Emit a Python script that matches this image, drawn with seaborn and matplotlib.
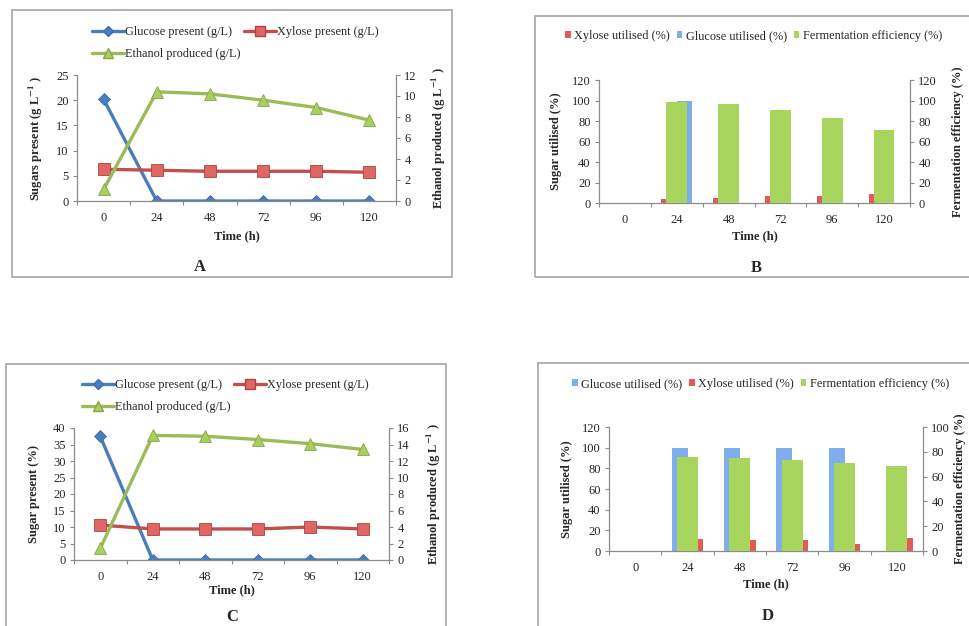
import numpy as np
import pandas as pd
import matplotlib
matplotlib.use('Agg')
import matplotlib.pyplot as plt
from matplotlib.lines import Line2D
from matplotlib.patches import Rectangle, Patch
import seaborn as sns

# ── data ──────────────────────────────────────────────────────────────────────
hours = ['0', '24', '48', '72', '96', '120']

# A: sugars / ethanol (g/L)
glucose_a = [20.2, 0, 0, 0, 0, 0]
xylose_a = [6.3, 6.1, 5.9, 5.9, 5.9, 5.7]
ethanol_a = [1.1, 10.4, 10.2, 9.6, 8.9, 7.7]

# B: utilisation / efficiency (%)
xylose_util_b = [0, 3.9, 5.2, 6.8, 7.1, 9.1]
glucose_util_b = [0, 100, 0, 0, 0, 0]
ferm_eff_b = [0, 98.6, 96.4, 90.9, 83.4, 71.4]

# C: sugars / ethanol
glucose_c = [37.5, 0, 0, 0, 0, 0]
xylose_c = [10.6, 9.4, 9.4, 9.4, 10.0, 9.4]
ethanol_c = [1.4, 15.1, 15.0, 14.6, 14.1, 13.4]

# D: utilisation / efficiency (%)
glucose_util_d = [0, 100, 100, 100, 100, 0]
xylose_util_d = [0, 11.3, 11.0, 11.0, 6.8, 12.6]
ferm_eff_d = [0, 75.8, 75.3, 73.4, 70.7, 68.3]

# ── style ────────────────────────────────────────────────────────────────────
sns.set_theme(style='ticks')
plt.rcParams['font.family'] = ['Liberation Serif', 'DejaVu Serif']
plt.rcParams['mathtext.fontset'] = 'stix'

BLUE = '#4A7EBB'
RED = '#C0504D'
GREEN = '#9BBB59'
BAR_BLUE = '#80AEEC'
BAR_RED = '#E25A5A'
BAR_GREEN = '#A8D55E'
GREY = '#8C8C8C'
BOX = '#A6A6A6'
TICK_FS = 9
LAB_FS = 9
LEG_FS = 8.8

W, H = 969, 626
fig = plt.figure(figsize=(W / 100, H / 100), dpi=100)


def px_axes(x0, y0, x1, y1):
    """axes rect from pixel corners (top-left origin)"""
    return fig.add_axes([x0 / W, 1 - y1 / H, (x1 - x0) / W, (y1 - y0) / H])


def px_box(x0, y0, x1, y1):
    fig.add_artist(Rectangle((x0 / W, 1 - y1 / H), (x1 - x0) / W, (y1 - y0) / H,
                             transform=fig.transFigure, fill=False,
                             edgecolor=BOX, linewidth=1.2))


def estilo(ax, ax2, ylim1, yt1, ylim2, yt2):
    for a in (ax, ax2):
        for s in a.spines.values():
            s.set_visible(False)
            s.set_color(GREY)
            s.set_linewidth(0.9)
    ax.spines['left'].set_visible(True)
    ax.spines['bottom'].set_visible(True)
    ax2.spines['right'].set_visible(True)
    ax.set_xlim(-0.5, 5.5)
    ax.set_xticks(range(6))
    ax.set_xticklabels(hours)
    ax.set_xticks(np.arange(-0.5, 6, 1), minor=True)
    ax.tick_params(axis='x', which='major', length=0, pad=8,
                   labelsize=TICK_FS)
    ax.tick_params(axis='x', which='minor', length=3, width=0.8,
                   color=GREY, direction='out')
    ax.set_ylim(*ylim1)
    ax.set_yticks(yt1)
    ax.tick_params(axis='y', length=3, width=0.8, color=GREY, pad=3,
                   labelsize=TICK_FS, left=True)
    ax2.set_ylim(*ylim2)
    ax2.set_yticks(yt2)
    ax2.tick_params(axis='y', length=3, width=0.8, color=GREY, pad=3,
                    labelsize=TICK_FS, right=True)
    ax2.tick_params(axis='x', which='both', length=0)
    for a in (ax, ax2):
        a.set_facecolor('none')
        a.grid(False)


# ── panel boxes ──────────────────────────────────────────────────────────────
px_box(12, 10, 452, 277)
px_box(535, 16, 980, 277)
px_box(6, 364, 446, 640)
px_box(538, 363, 980, 640)


# ── line panels (A, C) ───────────────────────────────────────────────────────
def panel_lineas(rect, glucosa, xilosa, etanol, ylim1, yt1, ylim2, yt2,
                 ylab, ylab_x, ylab2_x, xlab_y, leg_xy):
    ax = px_axes(*rect)
    ax2 = ax.twinx()
    df = pd.DataFrame({'time': hours, 'glucose': glucosa,
                       'xylose': xilosa, 'ethanol': etanol})
    sns.lineplot(data=df, x='time', y='glucose', ax=ax, color=BLUE,
                 marker='D', markersize=6, linewidth=2.4,
                 markeredgecolor='#3C6FAE', markeredgewidth=0.6)
    sns.lineplot(data=df, x='time', y='xylose', ax=ax, color=RED,
                 marker='s', markersize=8, linewidth=2.4,
                 markerfacecolor='#E06663', markeredgecolor='#A94442',
                 markeredgewidth=0.6)
    sns.lineplot(data=df, x='time', y='ethanol', ax=ax2, color=GREEN,
                 marker='^', markersize=8, linewidth=2.4,
                 markerfacecolor='#A9CF5E', markeredgecolor='#86A64A',
                 markeredgewidth=0.6)
    estilo(ax, ax2, ylim1, yt1, ylim2, yt2)
    ax.set_xlabel('Time (h)', fontsize=LAB_FS, fontweight='bold')
    ax.xaxis.set_label_coords(0.5, xlab_y)
    ax.set_ylabel(ylab, fontsize=LAB_FS, fontweight='bold')
    ax.yaxis.set_label_coords(ylab_x, 0.5)
    ax2.set_ylabel(r'Ethanol produced (g L$^{\mathbf{-1}}$ )', fontsize=LAB_FS,
                   fontweight='bold')
    ax2.yaxis.set_label_coords(ylab2_x, 0.5)

    h_g = Line2D([], [], color=BLUE, lw=2.4, marker='D', markersize=5,
                 markeredgecolor='#3C6FAE')
    h_x = Line2D([], [], color=RED, lw=2.4, marker='s', markersize=7,
                 markerfacecolor='#E06663', markeredgecolor='#A94442')
    h_e = Line2D([], [], color=GREEN, lw=2.4, marker='^', markersize=7,
                 markerfacecolor='#A9CF5E', markeredgecolor='#86A64A')
    fig.legend(handles=[h_g, h_e, h_x],
               labels=['Glucose present (g/L)', 'Ethanol produced (g/L)',
                       'Xylose present (g/L)'],
               ncol=2, loc='upper left',
               bbox_to_anchor=(leg_xy[0] / W, 1 - leg_xy[1] / H),
               frameon=False, prop={'size': LEG_FS}, handlelength=2.6,
               handletextpad=0.1, columnspacing=0.3, labelspacing=0.8,
               borderaxespad=0, borderpad=0)
    return ax


panel_lineas((77, 75, 396, 201), glucose_a, xylose_a, ethanol_a,
             (0, 25), range(0, 26, 5), (0, 12), range(0, 13, 2),
             r'Sugars present (g L$^{\mathbf{-1}}$ )', -0.10, 1.107, -0.23,
             (92, 26))
panel_lineas((74, 428, 389, 560), glucose_c, xylose_c, ethanol_c,
             (0, 40), range(0, 41, 5), (0, 16), range(0, 17, 2),
             'Sugar present (%)', -0.108, 1.114, -0.185,
             (82, 379))


# ── bar panels (B, D) ────────────────────────────────────────────────────────
def panel_barras(rect, series, colores, ferm, ylim2, yt2,
                 ylab_x, ylab2_x, xlab_y, leg_labels, leg_colors, leg_xy,
                 leg_spacing):
    ax = px_axes(*rect)
    ax2 = ax.twinx()
    largo = pd.DataFrame({
        'time': hours * len(series),
        'value': [v for _, vals in series for v in vals],
        'series': [n for n, vals in series for _ in vals],
    })
    sns.barplot(data=largo, x='time', y='value', hue='series',
                order=hours, hue_order=[n for n, _ in series],
                palette=colores, width=0.6, saturation=1, linewidth=0,
                legend=False, ax=ax)
    df_f = pd.DataFrame({'time': hours, 'ferm': ferm})
    sns.barplot(data=df_f, x='time', y='ferm', order=hours, color=BAR_GREEN,
                width=0.4, saturation=1, linewidth=0, ax=ax2)
    estilo(ax, ax2, (0, 120), range(0, 121, 20), ylim2, yt2)
    ax.set_xlabel('Time (h)', fontsize=LAB_FS, fontweight='bold')
    ax.xaxis.set_label_coords(0.5, xlab_y)
    ax.set_ylabel('Sugar utilised (%)', fontsize=LAB_FS, fontweight='bold')
    ax.yaxis.set_label_coords(ylab_x, 0.5)
    ax2.set_ylabel('Fermentation efficiency (%)', fontsize=LAB_FS,
                   fontweight='bold')
    ax2.yaxis.set_label_coords(ylab2_x, 0.5)
    ax2.set_xlabel('')

    handles = [Patch(facecolor=c, edgecolor='none') for c in leg_colors]
    fig.legend(handles=handles, labels=leg_labels, ncol=3, loc='upper left',
               bbox_to_anchor=(leg_xy[0] / W, 1 - leg_xy[1] / H),
               frameon=False, prop={'size': LEG_FS}, handlelength=0.45,
               handleheight=0.45, handletextpad=0.3,
               columnspacing=leg_spacing, borderaxespad=0, borderpad=0)
    return ax


panel_barras((599, 80, 910, 203),
             [('Xylose utilised (%)', xylose_util_b),
              ('Glucose utilised (%)', glucose_util_b)],
             [BAR_RED, BAR_BLUE], ferm_eff_b, (0, 120), range(0, 121, 20),
             -0.119, 1.135, -0.22,
             ['Xylose utilised (%)', 'Glucose utilised (%)',
              'Fermentation efficiency (%)'],
             [BAR_RED, BAR_BLUE, BAR_GREEN], (565, 30), 0.55)
panel_barras((609, 427, 923, 551),
             [('Glucose utilised (%)', glucose_util_d),
              ('Xylose utilised (%)', xylose_util_d)],
             [BAR_BLUE, BAR_RED], ferm_eff_d, (0, 100), range(0, 101, 20),
             -0.115, 1.1, -0.22,
             ['Glucose utilised (%)', 'Xylose utilised (%)',
              'Fermentation efficiency (%)'],
             [BAR_BLUE, BAR_RED, BAR_GREEN], (572, 378), 0.55)

# ── panel letters ────────────────────────────────────────────────────────────
for letra, (x, y) in {'A': (200, 267), 'B': (756, 268),
                      'C': (232, 617), 'D': (768, 616)}.items():
    fig.text(x / W, 1 - y / H, letra, ha='center', va='center',
             fontsize=12, fontweight='bold')

fig.savefig('out.png', dpi=100)
